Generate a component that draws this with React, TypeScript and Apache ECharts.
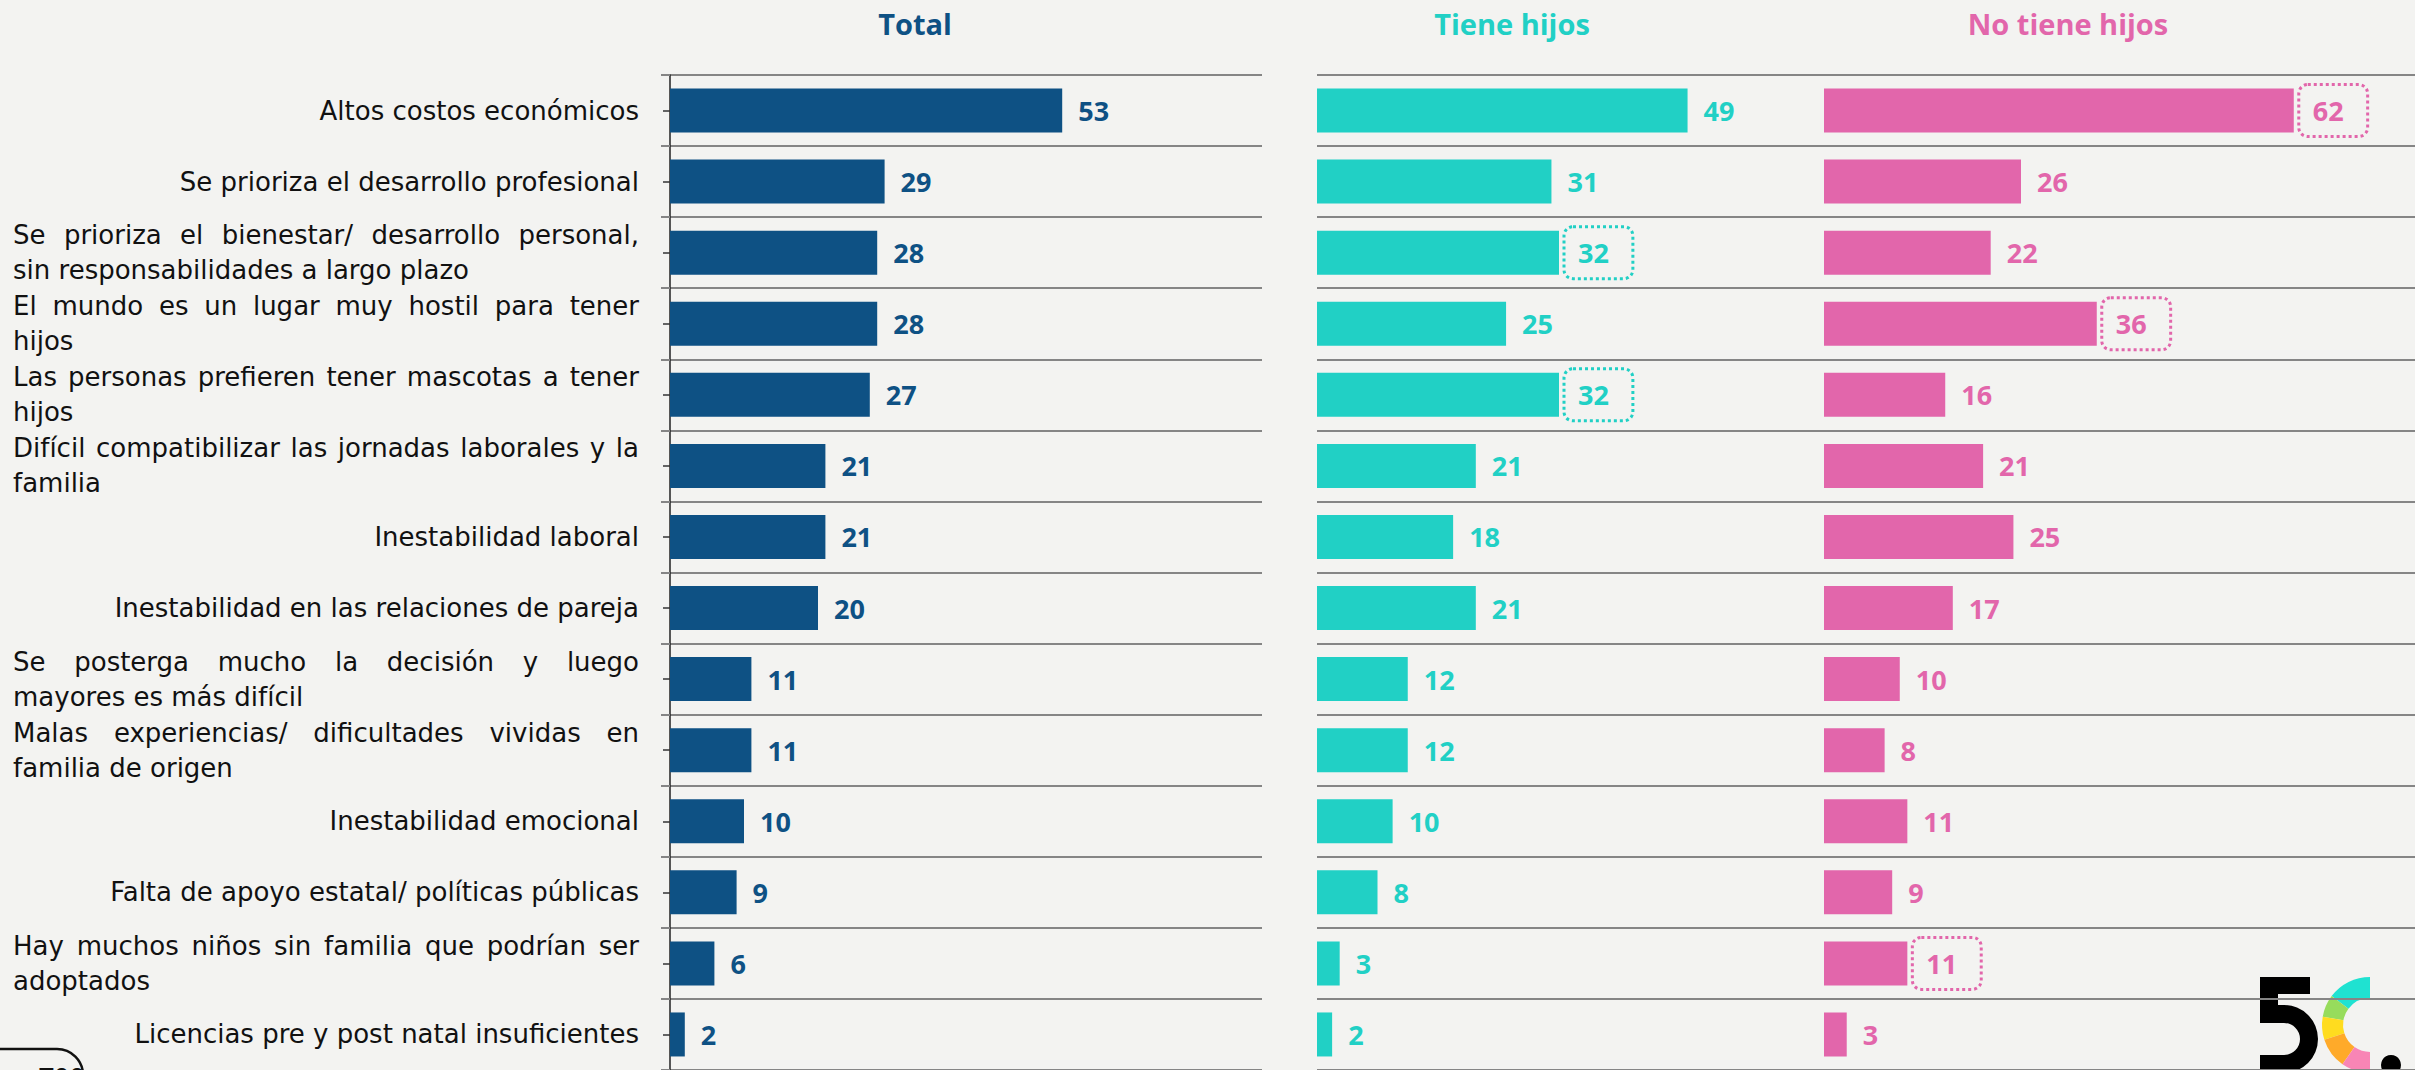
import React, { useEffect, useRef } from "react";
import * as echarts from "echarts";

const categories = [
  "Altos costos económicos",
  "Se prioriza el desarrollo profesional",
  "Se prioriza el bienestar/ desarrollo personal,\nsin responsabilidades a largo plazo",
  "El mundo es un lugar muy hostil para tener\nhijos",
  "Las personas prefieren tener mascotas a tener\nhijos",
  "Difícil compatibilizar las jornadas laborales y la\nfamilia",
  "Inestabilidad laboral",
  "Inestabilidad en las relaciones de pareja",
  "Se posterga mucho la decisión y luego\nmayores es más difícil",
  "Malas experiencias/ dificultades vividas en\nfamilia de origen",
  "Inestabilidad emocional",
  "Falta de apoyo estatal/ políticas públicas",
  "Hay muchos niños sin familia que podrían ser\nadoptados",
  "Licencias pre y post natal insuficientes",
];
const totalValues = [53, 29, 28, 28, 27, 21, 21, 20, 11, 11, 10, 9, 6, 2];
const tieneHijosValues = [49, 31, 32, 25, 32, 21, 18, 21, 12, 12, 10, 8, 3, 2];
const noTieneHijosValues = [62, 26, 22, 36, 16, 21, 25, 17, 10, 8, 11, 9, 11, 3];
const tieneHijosHighlighted = [2, 4];
const noTieneHijosHighlighted = [0, 3, 12];
const panelTitles = ["Total", "Tiene hijos", "No tiene hijos"];
const sampleLabel = "n= ";
const sampleSize = "700";

const COLORS = ["#0e5184", "#21d0c5", "#e266ab"];
const FONT = "Open Sans";
const LABEL_FONT = "DejaVu Sans";
const LABEL_FONT_SIZE = 26;
const LABEL_WIDTH = 626;
const BG = "#f3f3f1";
const GRID_LINE = "#858585";

function buildLabels() {
  const canvas = document.createElement("canvas");
  const ctx = canvas.getContext("2d") as CanvasRenderingContext2D;
  ctx.font = `${LABEL_FONT_SIZE}px "${LABEL_FONT}"`;
  const rich: Record<string, any> = {};
  const formatted = categories.map((cat, i) => {
    const lines = cat.split("\n");
    if (lines.length === 1) return cat;
    const words = lines[0].split(" ");
    const wordsW = words.reduce((s, w) => s + ctx.measureText(w).width, 0);
    const gap = Math.max(3, (LABEL_WIDTH - wordsW) / (words.length - 1));
    rich["g" + i] = { width: gap, fontSize: LABEL_FONT_SIZE };
    const line1 = words.join(`{g${i}| }`);
    const l2w = ctx.measureText(lines[1]).width;
    rich["p" + i] = { width: Math.max(1, LABEL_WIDTH - l2w), fontSize: LABEL_FONT_SIZE };
    return line1 + "\n" + lines[1] + `{p${i}| }`;
  });
  return { formatted, rich };
}

function makeData(values: number[], highlighted: number[], color: string) {
  return values.map((v, i) =>
    highlighted.includes(i)
      ? {
          value: v,
          label: {
            borderColor: color,
            borderWidth: 3,
            borderType: "dotted",
            borderRadius: 9,
            padding: [11, 24, 11, 14],
            distance: 5,
          },
        }
      : v
  );
}

echarts.graphic.registerShape(
  "logoFive",
  echarts.graphic.extendPath(
    "M0 0 H50 V17 H18 V28 H24 A34 34 0 0 1 24 96 H0 V78 H24 A16 16 0 0 0 24 46 H0 Z",
    {}
  )
);

const deg = (d: number) => (d * Math.PI) / 180;

export default function App() {
  const ref = useRef<HTMLDivElement>(null);
  useEffect(() => {
    if (!ref.current) return;
    const chart = echarts.init(ref.current, undefined, { renderer: "svg" });
    const { formatted, rich } = buildLabels();

    const grids = [
      { left: 670, top: 75, width: 592, height: 1000 },
      { left: 1317, top: 75, width: 605, height: 1000 },
      { left: 1824, top: 75, width: 591, height: 1000 },
    ];
    const xMax = [80, 80, 78];
    const splitLine = { show: true, lineStyle: { color: GRID_LINE, width: 2 } };

    const valueLabel = (color: string) => ({
      show: true,
      position: "right",
      distance: 16,
      color,
      fontFamily: FONT,
      fontWeight: "bold",
      fontSize: 27,
      lineHeight: 30,
    });

    const seriesValues = [
      makeData(totalValues, [], COLORS[0]),
      makeData(tieneHijosValues, tieneHijosHighlighted, COLORS[1]),
      makeData(noTieneHijosValues, noTieneHijosHighlighted, COLORS[2]),
    ];

    const titleCenters = [910, 1507, 2063];

    const logoSegments = [
      { from: 217, to: 270, color: "#1fe2d1" },
      { from: 190, to: 217, color: "#97dc5c" },
      { from: 162, to: 190, color: "#ffdc1f" },
      { from: 125, to: 162, color: "#ffaa29" },
      { from: 90, to: 125, color: "#f885b5" },
    ];

    const option: any = {
      animation: false,
      backgroundColor: BG,
      title: panelTitles.map((t, i) => ({
        text: t,
        left: titleCenters[i],
        top: 4,
        textAlign: "center",
        textStyle: { color: COLORS[i], fontFamily: FONT, fontWeight: "bold", fontSize: 29 },
      })),
      grid: grids,
      xAxis: grids.map((_, i) => ({
        type: "value",
        gridIndex: i,
        min: 0,
        max: xMax[i],
        show: false,
      })),
      yAxis: [
        {
          type: "category",
          gridIndex: 0,
          data: categories,
          inverse: true,
          axisLine: { show: true, lineStyle: { color: "#222", width: 1.5 } },
          axisTick: { show: true, length: 9, lineStyle: { color: GRID_LINE, width: 2 } },
          axisLabel: {
            interval: 0,
            margin: 31,
            color: "#111",
            fontFamily: LABEL_FONT,
            fontSize: LABEL_FONT_SIZE,
            lineHeight: 35,
            align: "right",
            formatter: (_v: string, idx: number) => formatted[idx],
            rich,
          },
          splitLine,
        },
        {
          type: "category",
          gridIndex: 0,
          data: categories,
          inverse: true,
          position: "left",
          axisLine: { show: false },
          axisLabel: { show: false },
          axisTick: { show: true, alignWithLabel: true, length: 7, lineStyle: { color: "#333", width: 1.5 } },
          splitLine: { show: false },
        },
        {
          type: "category",
          gridIndex: 1,
          data: categories,
          inverse: true,
          axisLine: { show: false },
          axisTick: { show: false },
          axisLabel: { show: false },
          splitLine,
        },
        {
          type: "category",
          gridIndex: 2,
          data: categories,
          inverse: true,
          axisLine: { show: false },
          axisTick: { show: false },
          axisLabel: { show: false },
          splitLine,
        },
      ],
      series: seriesValues.map((data, i) => ({
        type: "bar",
        name: panelTitles[i],
        xAxisIndex: i,
        yAxisIndex: i === 0 ? 0 : i + 1,
        data,
        barWidth: 44,
        itemStyle: { color: COLORS[i] },
        label: valueLabel(COLORS[i]),
        z: 3,
      })),
      graphic: {
        elements: [
          {
            type: "rect",
            z: -10,
            shape: { x: -40, y: 1049, width: 123, height: 70, r: 26 },
            style: { fill: "none", stroke: "#111", lineWidth: 2.5 },
          },
          {
            type: "text",
            z: -10,
            x: 4,
            y: 1063,
            style: {
              text: `{a|${sampleLabel}}{b|${sampleSize}}`,
              rich: {
                a: { fill: "#aaa", fontFamily: FONT, fontSize: 24 },
                b: { fill: "#111", fontFamily: FONT, fontWeight: "bold", fontSize: 27 },
              },
            },
          },
          {
            type: "logoFive",
            z: -10,
            x: 2260,
            y: 977,
            style: { fill: "#000" },
          },
          ...logoSegments.map((s) => ({
            type: "sector",
            z: -10,
            shape: { cx: 2370, cy: 1025, r: 48, r0: 27, startAngle: deg(s.from), endAngle: deg(s.to) },
            style: { fill: s.color },
          })),
          {
            type: "circle",
            z: -10,
            shape: { cx: 2391, cy: 1065, r: 10 },
            style: { fill: "#000" },
          },
        ],
      },
    };
    chart.setOption(option);
    return () => chart.dispose();
  }, []);
  return (
    <div
      ref={ref}
      style={{ position: "fixed", left: 0, top: 0, width: 2415, height: 1070 }}
    />
  );
}
